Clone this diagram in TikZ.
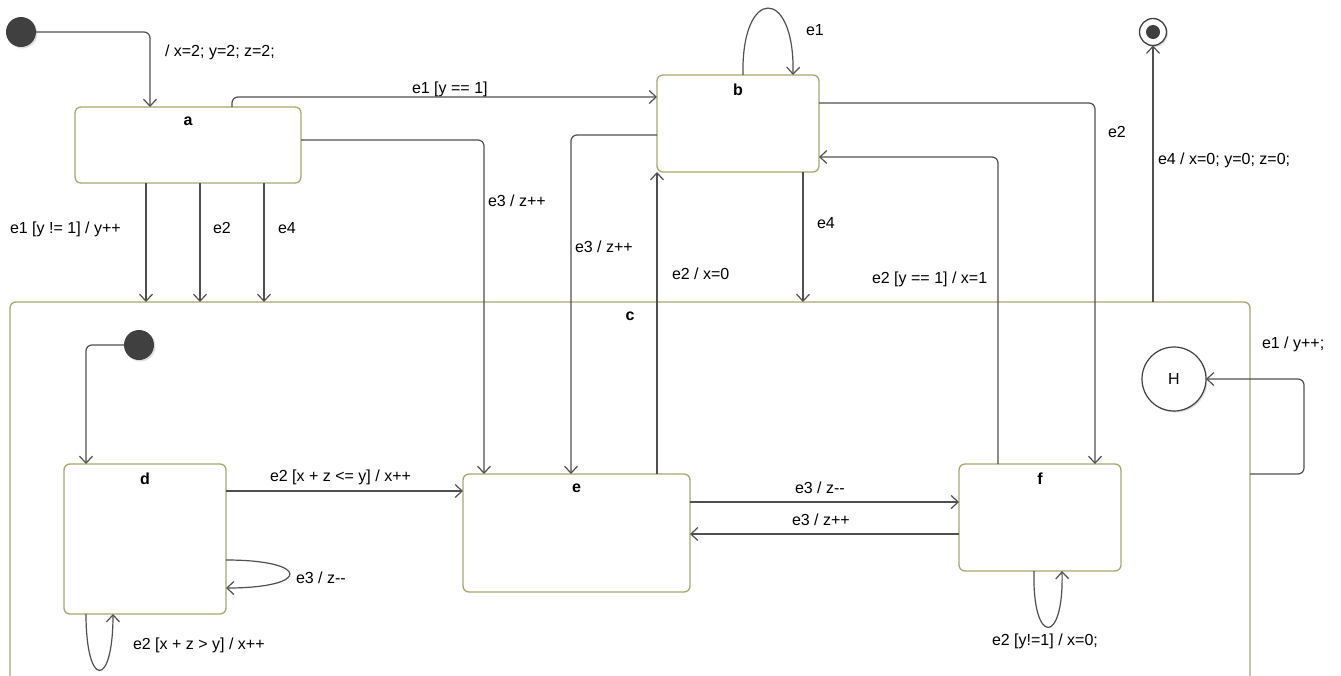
\documentclass[tikz,border=0pt]{standalone}
\usepackage{fontspec}
\setmainfont{Liberation Sans}
\usetikzlibrary{arrows.meta,shadows}
\definecolor{stcol}{RGB}{168,168,110}
\definecolor{trcol}{RGB}{80,80,80}
\definecolor{dotcol}{RGB}{64,64,64}

\begin{document}
\begin{tikzpicture}[x=1pt,y=-1pt,
  every node/.style={font=\fontsize{16}{19}\selectfont, inner sep=0pt, outer sep=0pt},
  state/.style={draw=stcol, line width=1.3pt, fill=white, rounded corners=6pt},
  title/.style={label={[font=\fontsize{16}{19}\selectfont\bfseries, anchor=center, yshift=-14.5pt]north:#1}},
  tr/.style={draw=trcol, line width=1.2pt, rounded corners=6pt, -{Straight Barb[length=7pt,width=13pt]}},
  lbl/.style={anchor=west},
  shad/.style={drop shadow={shadow xshift=1.5pt, shadow yshift=-1.5pt, opacity=0.25}},
  init/.style={circle, fill=dotcol, minimum size=30pt, shad},
]
\useasboundingbox (0,0) rectangle (1341,675);
\clip (0,0) rectangle (1341,675);

% outer states
\node[init] (init1) at (21,32) {};
\node[circle, draw=dotcol, line width=1.3pt, fill=white, minimum size=27pt, shad] (fin) at (1153,32) {};
\node[circle, fill=dotcol, minimum size=14pt] (fin-dot) at (fin) {};
\node[state, minimum width=226pt, minimum height=76pt, title=a] (a) at (188,145) {};
\node[state, minimum width=162pt, minimum height=97pt, title=b] (b) at (738,123.5) {};
\node[state, minimum width=1240pt, minimum height=420pt, anchor=north west, title=c] (c) at (10,302) {};

% inside c
\node[init] (init2) at (139,345) {};
\node[circle, draw=black!75, line width=1.2pt, fill=white, minimum size=64pt, shad] (H) at (1174,379) {H};
\node[state, minimum width=162pt, minimum height=150pt, title=d] (d) at (145,539) {};
\node[state, minimum width=227pt, minimum height=118pt, title=e] (e) at (576.5,533) {};
\node[state, minimum width=162pt, minimum height=107pt, title=f] (f) at (1040,517.5) {};

% transitions
\draw[tr] (init1) -| (a.north -| 150,0);
\node[lbl] (l-init) at (165,52) {/ x=2; y=2; z=2;};
\draw[tr] (a.north -| 232,0) |- (b.west |- 0,97);
\node[lbl] (l-ab) at (412,89) {e1 [y == 1]};
\draw[tr] (a.east |- 0,140) -| (e.north -| 484,0);
\node[lbl] (l-ae) at (488,201) {e3 / z++};
\foreach \x in {146,200,264} \draw[tr] (a.south -| \x,0) -- (c.north -| \x,0);
\node[lbl] (l-ac1) at (10,229) {e1 [y != 1] / y++};
\node[lbl] (l-ac2) at (213,228) {e2};
\node[lbl] (l-ac3) at (278,228) {e4};

\draw[tr] (b.north -| 743,0) .. controls (741,-14) and (795,-14) .. (b.north -| 793,0);
\node[lbl] (l-bb) at (806,30) {e1};
\draw[tr] (b.west |- 0,135) -| (e.north -| 571,0);
\node[lbl] (l-be) at (575,247) {e3 / z++};
\draw[tr] (e.north -| 657,0) -- (b.south -| 657,0);
\node[lbl] (l-eb) at (672,274) {e2 / x=0};
\draw[tr] (b.south -| 803,0) -- (c.north -| 803,0);
\node[lbl] (l-bc) at (817,223) {e4};
\draw[tr] (b.east |- 0,103) -| (f.north -| 1095,0);
\node[lbl] (l-bf) at (1108,132) {e2};
\draw[tr] (f.north -| 998,0) |- (b.east |- 0,157);
\node[lbl] (l-fb) at (872,279) {e2 [y == 1] / x=1};
\draw[tr] (c.north -| 1153,0) -- (fin);
\node[lbl] (l-cf) at (1158,160) {e4 / x=0; y=0; z=0;};
\draw[tr] (c.east |- 0,474) -- ++(54,0) |- (H);
\node[lbl] (l-ch) at (1262,344) {e1 / y++;};

\draw[tr] (init2) -| (d.north -| 86,0);
\draw[tr] (d.east |- 0,491) -- (e.west |- 0,491);
\node[lbl] (l-de) at (270,477) {e2 [x + z <= y] / x++};
\draw[tr] (d.east |- 0,560) .. controls (311,560) and (311,588) .. (d.east |- 0,588);
\node[lbl] (l-dd1) at (296,578) {e3 / z-\kern0pt-};
\draw[tr] (d.south -| 86,0) .. controls (86,689) and (113,689) .. (d.south -| 113,0);
\node[lbl] (l-dd2) at (133,645) {e2 [x + z > y] / x++};
\draw[tr] (e.east |- 0,502) -- (f.west |- 0,502);
\node[lbl] (l-ef) at (795,488) {e3 / z-\kern0pt-};
\draw[tr] (f.west |- 0,534) -- (e.east |- 0,534);
\node[lbl] (l-fe) at (792,520) {e3 / z++};
\draw[tr] (f.south -| 1034,0) .. controls (1032,646) and (1064,646) .. (f.south -| 1062,0);
\node[lbl] (l-ff) at (992,641) {e2 [y!=1] / x=0;};
\end{tikzpicture}
\end{document}
